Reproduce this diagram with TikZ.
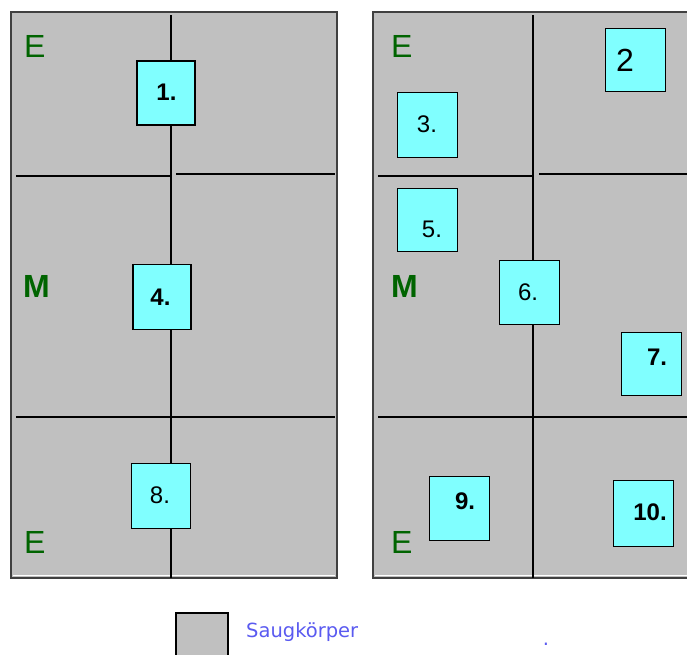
\documentclass[tikz,border=0pt]{standalone}
\usepackage{fontspec}
\setmainfont{Liberation Sans}
\newfontfamily\keyfont{DejaVu Sans}
\definecolor{pane}{HTML}{C0C0C0}
\definecolor{cellfill}{HTML}{80FFFF}
\definecolor{zonegreen}{HTML}{006400}
\definecolor{keyblue}{HTML}{5A5AF0}
\definecolor{rim}{HTML}{404040}

\begin{document}
\begin{tikzpicture}[x=1pt,y=-1pt,line join=miter,
  cell/.style={draw=black,fill=cellfill,line width=1.5pt,inner sep=0pt,
    minimum width=58pt,minimum height=64pt},
  num/.style={inner sep=0pt,font=\fontsize{24}{26}\selectfont},
  bnum/.style={num,font=\fontsize{24}{26}\selectfont\bfseries},
  zone/.style={inner sep=0pt,anchor=base west,text=zonegreen,
    font=\fontsize{32}{36}\selectfont},
  divider/.style={black,line width=1.5pt}]
  \useasboundingbox (0,0) rectangle (687,654);

  % Left panel: centre line with three cells on it.
  \begin{scope}
    \fill[pane] (11,12) rectangle (337,578);
    \draw[white,line width=1pt] (13,575.5)--(335,575.5);
    \draw[rim,line width=2pt] (11,12) rectangle (337,578);
    \draw[divider] (171,15)--(171,578);
    \draw[divider] (16,176)--(171,176) (176,174)--(335,174);
    \draw[divider] (16,417)--(335,417);
    \node[cell] (c1) at (166,93) {};
    \node[cell,minimum height=65pt] (c4) at (162,297) {};
    \node[cell,minimum width=59pt,minimum height=65pt] (c8) at (161,496) {};
    \node[bnum] (n1) at (166.5,92) {1.};
    \node[bnum] (n4) at (160.5,297) {4.};
    \node[num] (n8) at (160,495) {8.};
    \node[zone] (e1) at (24,57) {E};
    \node[zone,font=\fontsize{32}{36}\selectfont\bfseries] (m1) at (23,297) {M};
    \node[zone] (e2) at (24,553) {E};
  \end{scope}

  % Right panel: cells spread over the quarters.
  \begin{scope}
    \fill[pane] (373,12) rectangle (690,578);
    \draw[white,line width=1pt] (375,575.5)--(690,575.5);
    \draw[rim,line width=2pt] (690,12)--(373,12)--(373,578)--(690,578);
    \draw[divider] (533,15)--(533,578);
    \draw[divider] (378,176)--(533,176) (539,174)--(687,174);
    \draw[divider] (378,417)--(687,417);
    \node[cell,minimum width=60pt,minimum height=63pt] (c2) at (635.5,60) {};
    \node[cell,minimum width=60pt,minimum height=65pt] (c3) at (427.5,125) {};
    \node[cell,minimum width=60pt,minimum height=63pt] (c5) at (427.5,220) {};
    \node[cell,minimum width=60pt] (c6) at (529.5,292.5) {};
    \node[cell,minimum width=60pt,minimum height=63pt] (c7) at (651.5,364) {};
    \node[cell,minimum width=60pt] (c9) at (459.5,508.5) {};
    \node[cell,minimum width=60pt,minimum height=66pt] (c10) at (643.5,513.5) {};
    \node[num,font=\fontsize{32}{36}\selectfont] (n2) at (625,60) {2};
    \node[num] (n3) at (427,124) {3.};
    \node[num] (n5) at (432,229) {5.};
    \node[num] (n6) at (528,292) {6.};
    \node[bnum] (n7) at (657,357) {7.};
    \node[bnum] (n9) at (465,501) {9.};
    \node[bnum] (n10) at (650,512) {10.};
    \node[zone] (e3) at (391,57) {E};
    \node[zone,font=\fontsize{32}{36}\selectfont\bfseries] (m2) at (391,297) {M};
    \node[zone] (e4) at (391,553) {E};
  \end{scope}

  % Key below the panels.
  \draw[pane,fill=pane,draw=black,line width=1.5pt] (176,613) rectangle (228,660);
  \node[inner sep=0pt,anchor=base west,text=keyblue,
    font=\keyfont\fontsize{19.5}{21}\selectfont] (key) at (246,637) {Saugkörper};
  \node[inner sep=0pt,anchor=base,text=keyblue,
    font=\keyfont\fontsize{19.5}{21}\selectfont] (dot) at (546,645) {.};
\end{tikzpicture}
\end{document}
